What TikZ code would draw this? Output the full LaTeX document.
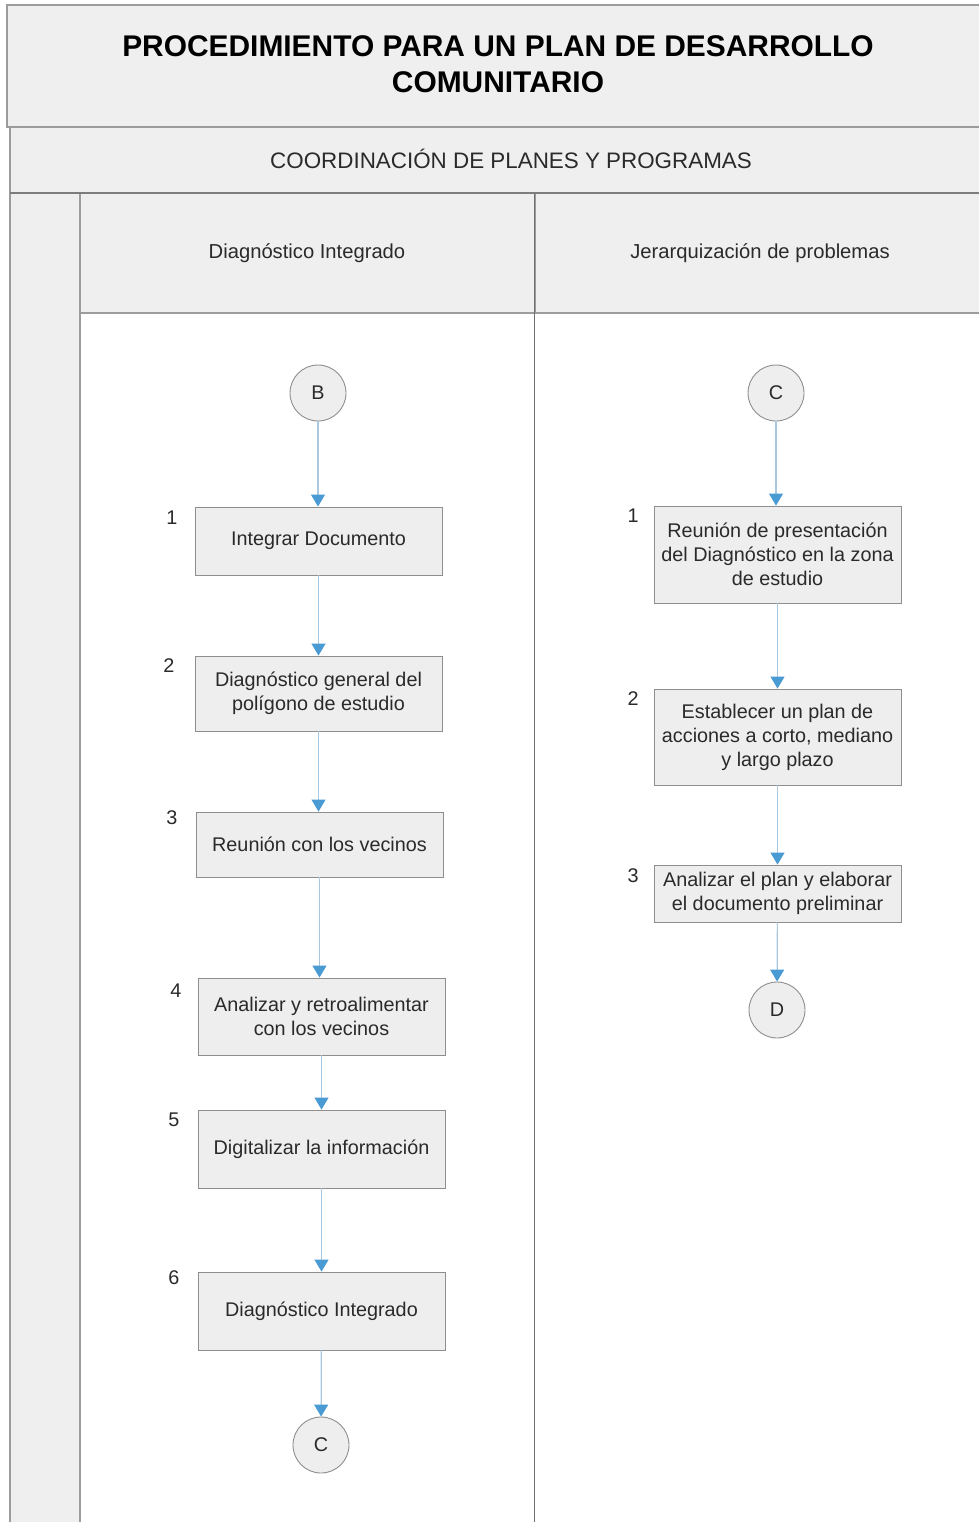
\documentclass[tikz,border=0pt]{standalone}
\usepackage{fontspec}
\setmainfont{Liberation Sans}
\usetikzlibrary{arrows.meta}
\definecolor{bandfill}{HTML}{EFEFEF}
\definecolor{framegray}{HTML}{9C9C9C}
\definecolor{divgray}{HTML}{6E6E6E}
\definecolor{boxfill}{HTML}{EEEEEE}
\definecolor{boxline}{HTML}{8E8E8E}
\definecolor{txt}{HTML}{2A2A2A}
\definecolor{linkblue}{HTML}{A9C9E2}
\definecolor{tipblue}{HTML}{4A9AD3}
\begin{document}
\begin{tikzpicture}[x=1pt,y=-1pt,
  band/.style={fill=bandfill,draw=framegray,line width=1.2pt},
  stepbox/.style={draw=boxline,fill=boxfill,line width=0.9pt,minimum width=247pt,align=center,
    text=txt,font=\fontsize{19.8}{24}\selectfont,inner sep=0pt},
  conn/.style={circle,draw=boxline,fill=boxfill,line width=0.9pt,minimum size=56pt,inner sep=0pt,
    text=txt,font=\fontsize{19.8}{24}\selectfont},
  num/.style={text=txt,font=\fontsize{19.8}{24}\selectfont,inner sep=0pt},
  hdr/.style={text=txt,font=\fontsize{20.2}{24}\selectfont},
  flow/.style={draw=linkblue,line width=1.2pt,-{Triangle[color=tipblue,width=14pt,length=12pt]}}]
\useasboundingbox (0,0) rectangle (978,1522);
\fill[white] (0,0) rectangle (978,1522);
% frame
\draw[band] (7,5) -- (990,5) -- (990,127) -- (7,127) -- cycle;
\draw[band] (10,127) rectangle (990,193);
\draw[band] (10,193) rectangle (80,1530);
\draw[band] (80,193) rectangle (535,313);
\draw[band] (535,193) rectangle (990,313);
\draw[framegray,line width=1.2pt] (80,313) -- (80,1530);
\draw[divgray,line width=1.4pt] (534.5,193) -- (534.5,1530);
\draw[framegray!80!black,line width=1.6pt] (10,193) -- (990,193);
% texts
\node[text=black,align=center,font=\bfseries\fontsize{29.9}{36}\selectfont] (title) at (498,64)
  {PROCEDIMIENTO PARA UN PLAN DE DESARROLLO\\COMUNITARIO};
\node[hdr,font=\fontsize{22.4}{26}\selectfont] (coord) at (511,159) {COORDINACIÓN DE PLANES Y PROGRAMAS};
\node[hdr] (h1) at (307,253) {Diagnóstico Integrado};
\node[hdr] (h2) at (760,253) {Jerarquización de problemas};
% left lane
\node[conn] (B) at (318,393) {B};
\node[stepbox,minimum height=68pt] (a1) at (318.5,541) {Integrar Documento};
\node[stepbox,minimum height=75pt] (a2) at (318.5,693.5) {Diagnóstico general del\\polígono de estudio};
\node[stepbox,minimum height=65pt] (a3) at (319.5,844.5) {Reunión con los vecinos};
\node[stepbox,minimum height=77pt] (a4) at (321.5,1016.5) {Analizar y retroalimentar\\con los vecinos};
\node[stepbox,minimum height=78pt] (a5) at (321.5,1149) {Digitalizar la información};
\node[stepbox,minimum height=78pt] (a6) at (321.5,1311) {Diagnóstico Integrado};
\node[conn] (C1) at (321,1445) {C};
\node[num] (na1) at (172,518) {1};
\node[num] (na2) at (169,666) {2};
\node[num] (na3) at (172,818) {3};
\node[num] (na4) at (176,991) {4};
\node[num] (na5) at (174,1120) {5};
\node[num] (na6) at (174,1278) {6};
\draw[flow] (B) -- (B|-a1.north);
\draw[flow] (a1) -- (a1|-a2.north);
\draw[flow] (a2.south) -- (a2.south|-a3.north);
\draw[flow] (a3.south) -- (a3.south|-a4.north);
\draw[flow] (a4) -- (a5);
\draw[flow] (a5) -- (a6);
\draw[flow] (a6) -- (C1);
% right lane
\node[conn] (C2) at (776,393) {C};
\node[stepbox,minimum height=97pt] (b1) at (777.5,554.5) {Reunión de presentación\\del Diagnóstico en la zona\\de estudio};
\node[stepbox,minimum height=96pt] (b2) at (777.5,737) {Establecer un plan de\\acciones a corto, mediano\\y largo plazo};
\node[stepbox,minimum height=57pt] (b3) at (777.5,893.5) {Analizar el plan y elaborar\\el documento preliminar};
\node[conn] (D) at (777,1010) {D};
\node[num] (nb1) at (633,516) {1};
\node[num] (nb2) at (633,699) {2};
\node[num] (nb3) at (633,876) {3};
\draw[flow] (C2) -- (C2|-b1.north);
\draw[flow] (b1) -- (b2);
\draw[flow] (b2) -- (b3);
\draw[flow] (b3) -- (D);
\end{tikzpicture}
\end{document}
